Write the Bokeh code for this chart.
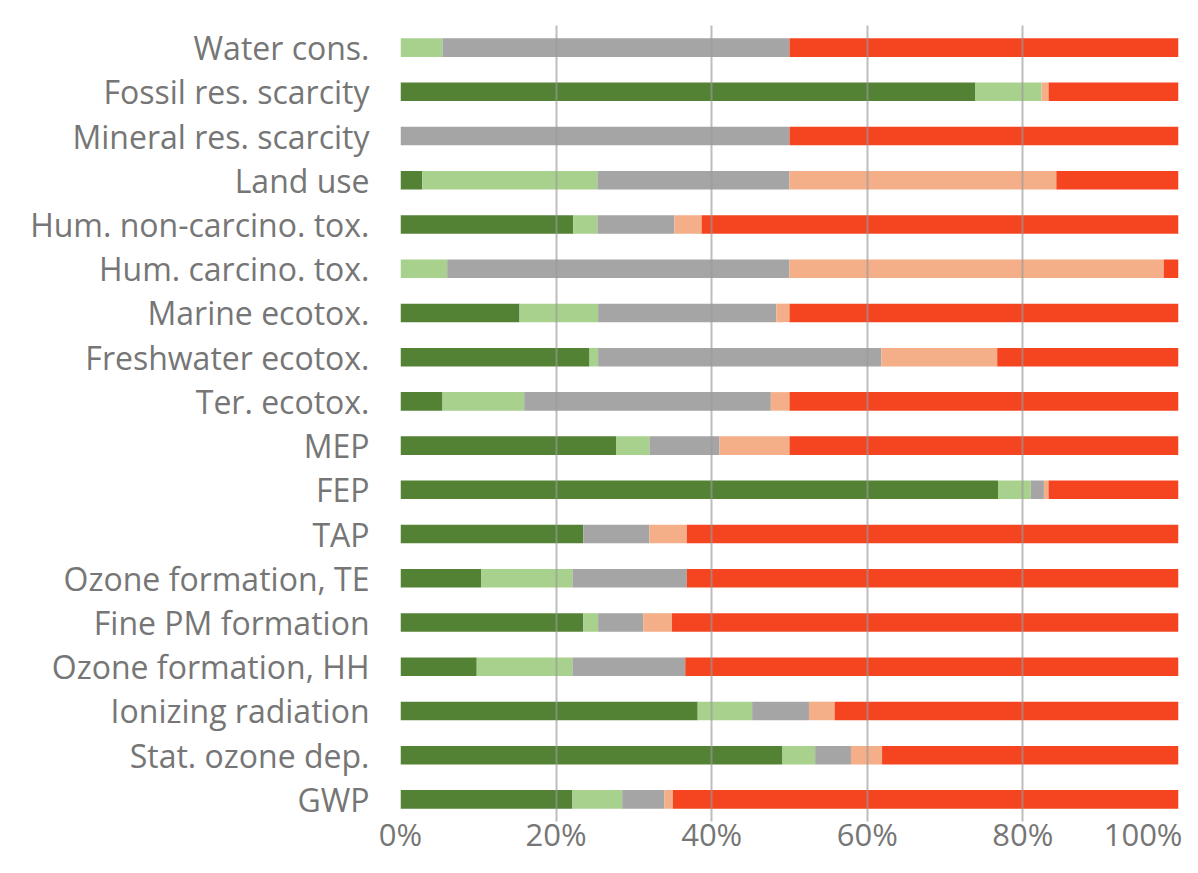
from bokeh.plotting import figure
from bokeh.models import FactorRange, Range1d, FixedTicker
from bokeh.embed import file_html
from bokeh.resources import INLINE

categories = ["Water cons.", "Fossil res. scarcity", "Mineral res. scarcity", "Land use",
              "Hum. non-carcino. tox.", "Hum. carcino. tox.", "Marine ecotox.",
              "Freshwater ecotox.", "Ter. ecotox.", "MEP", "FEP", "TAP",
              "Ozone formation, TE", "Fine PM formation", "Ozone formation, HH",
              "Ionizing radiation", "Stat. ozone dep.", "GWP"]

# shares in percent, one list per stacked segment (left to right)
seg_dark_green = [0.0, 73.9, 0.0, 2.8, 22.2, 0.0, 15.3, 24.3, 5.4, 27.7, 76.8, 23.5, 10.4, 23.5, 9.8, 38.2, 49.1, 22.1]
seg_light_green = [5.4, 8.5, 0.0, 22.5, 3.1, 6.0, 10.1, 1.1, 10.5, 4.3, 4.2, 0.0, 11.7, 1.9, 12.3, 7.0, 4.2, 6.4]
seg_gray = [44.6, 0.0, 50.0, 24.7, 9.9, 44.0, 22.9, 36.4, 31.7, 9.0, 1.7, 8.5, 14.7, 5.8, 14.5, 7.3, 4.6, 5.4]
seg_salmon = [0.0, 0.9, 0.0, 34.3, 3.5, 48.1, 1.7, 14.9, 2.4, 9.0, 0.6, 4.8, 0.0, 3.7, 0.0, 3.3, 4.0, 1.1]
seg_red = [50.0, 16.7, 50.0, 15.7, 61.3, 1.9, 50.0, 23.3, 50.0, 50.0, 16.7, 63.2, 63.2, 65.1, 63.4, 44.2, 38.1, 65.0]

x_ticks = [0, 20, 40, 60, 80, 100]
x_tick_labels = ["0%", "20%", "40%", "60%", "80%", "100%"]

series = ["s1", "s2", "s3", "s4", "s5"]
colors = ["#548235", "#A9D18E", "#A5A5A5", "#F5AF88", "#F54420"]

data = dict(cat=categories, s1=seg_dark_green, s2=seg_light_green,
            s3=seg_gray, s4=seg_salmon, s5=seg_red)

FONT = "Open Sans"
TXT = "#767676"

p = figure(width=1182, height=857, output_backend="svg", toolbar_location=None,
           y_range=FactorRange(factors=list(reversed(categories))),
           x_range=Range1d(0, 100))
p.min_border_left = 400
p.min_border_right = 4
p.min_border_top = 25
p.min_border_bottom = 0
p.outline_line_color = None
p.background_fill_color = "white"
p.border_fill_color = "white"

p.hbar_stack(series, y="cat", height=0.42, color=colors, line_color=None, source=data)

xa = p.xaxis[0]
xa.ticker = FixedTicker(ticks=x_ticks)
xa.major_label_overrides = {t: s for t, s in zip(x_ticks, x_tick_labels)}
xa.axis_line_color = None
xa.major_tick_line_color = None
xa.minor_tick_line_color = None
xa.major_tick_out = 0
xa.major_tick_in = 0
xa.major_label_standoff = -9
xa.major_label_text_font = FONT
xa.major_label_text_font_size = "31px"
xa.major_label_text_color = TXT

p.xgrid.ticker = FixedTicker(ticks=[20, 40, 60, 80])
p.xgrid.grid_line_color = "#9a9a9a"
p.xgrid.grid_line_width = 2
p.xgrid.grid_line_alpha = 0.65
p.xgrid.level = "overlay"
p.ygrid.grid_line_color = None

ya = p.yaxis[0]
ya.axis_line_color = None
ya.major_tick_line_color = None
ya.minor_tick_line_color = None
ya.major_tick_out = 0
ya.major_tick_in = 0
ya.major_label_standoff = 31
ya.major_label_text_font = FONT
ya.major_label_text_font_size = "32px"
ya.major_label_text_color = TXT

open("out.html", "w").write(file_html(p, INLINE))
